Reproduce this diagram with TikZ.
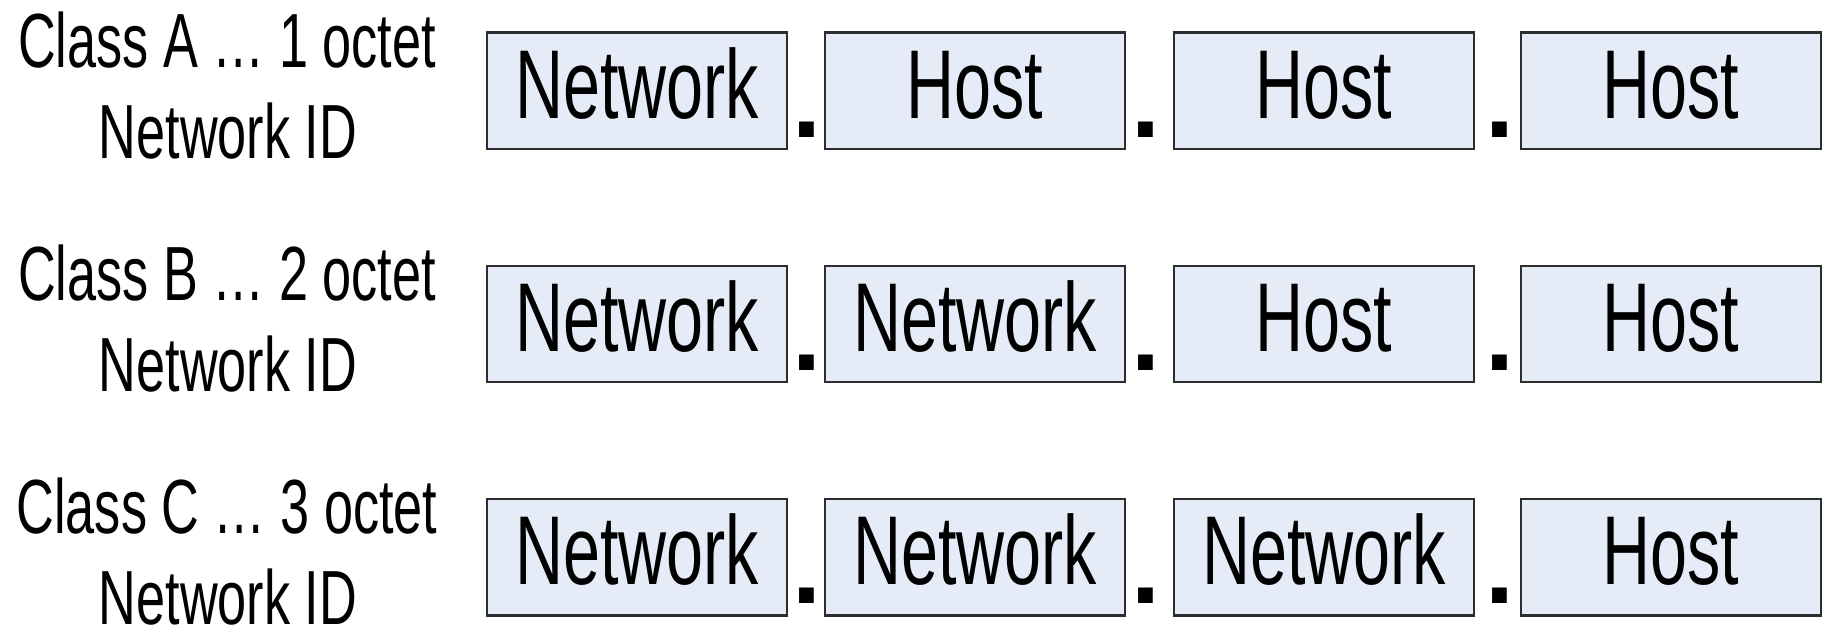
\documentclass[tikz,border=0pt]{standalone}
\usepackage{fontspec}
\newfontfamily\nf[FakeStretch=0.68]{Liberation Sans}
\newfontfamily\df{Liberation Sans}
\definecolor{cellfill}{RGB}{230,236,247}
\definecolor{cellline}{RGB}{45,45,45}
\begin{document}
\begin{tikzpicture}[x=0.5pt,y=-0.5pt,
  cell/.style={draw=cellline,fill=cellfill,line width=1.1pt,rectangle,
    minimum width=150pt,minimum height=58.25pt,inner sep=0pt,
    text height=27.25pt,text depth=0pt,
    font=\nf\fontsize{48.9}{58}\selectfont},
  sep/.style={anchor=base,inner sep=0pt,font=\df\bfseries\fontsize{52}{60}\selectfont},
  lbl/.style={anchor=base,inner sep=0pt,font=\nf\fontsize{38.4}{46}\selectfont}]
\useasboundingbox (0,0) rectangle (1822,629);
\foreach \r/\cls/\n/\a/\b/\c/\d in {0/A/1/Network/Host/Host/Host,
                                     1/B/2/Network/Network/Host/Host,
                                     2/C/3/Network/Network/Network/Host}{
  \pgfmathsetmacro{\top}{32.5+233.2*\r}
  \node[lbl] (cl\r) at (227,\top+34.5) {Class \cls\ … \n\ octet};
  \node[lbl] (id\r) at (228,\top+125.5) {Network ID};
  \node[cell] (c\r1) at (637,\top+58.25) {\a};
  \node[cell] (c\r2) at (975,\top+58.25) {\b};
  \node[cell] (c\r3) at (1324,\top+58.25) {\c};
  \node[cell] (c\r4) at (1671,\top+58.25) {\d};
  \node[sep] (s\r1) at (807,\top+104.5) {.};
  \node[sep] (s\r2) at (1146,\top+104.5) {.};
  \node[sep] (s\r3) at (1500,\top+104.5) {.};
}
\end{tikzpicture}
\end{document}
